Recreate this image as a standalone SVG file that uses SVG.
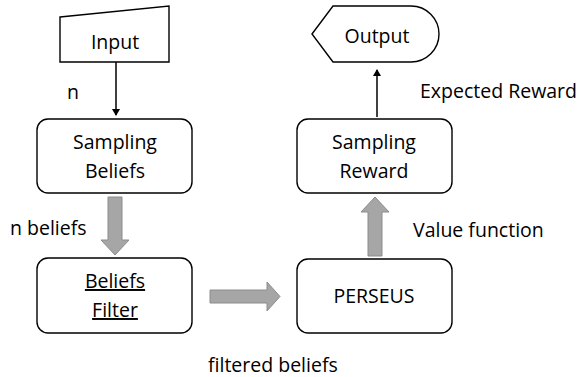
<svg xmlns="http://www.w3.org/2000/svg" width="577" height="377" viewBox="0 0 577 377">
<style>
.box{fill:#fff;stroke:#000;stroke-width:1.4}
.t{font-family:"Open Sans","Liberation Sans",sans-serif;font-size:19.5px;fill:#000;text-anchor:middle}
.l{font-family:"Open Sans","Liberation Sans",sans-serif;font-size:19.5px;fill:#000}
.big{fill:#a6a6a6;stroke:#8c8c8c;stroke-width:1}
.thin{stroke:#000;stroke-width:1.5;fill:none}
</style>
<defs>
<marker id="ah" markerWidth="8" markerHeight="8" refX="6" refY="4" orient="auto" markerUnits="userSpaceOnUse">
<path d="M0,0 L7,4 L0,8 Z" fill="#000"/>
</marker>
</defs>
<rect width="577" height="377" fill="#fff"/>
<g id="input">
<path class="box" d="M60,17 L169,6 L169,62 L60,62 Z"/>
<text class="t" x="115" y="49">Input</text>
</g>
<g id="sampling-beliefs">
<rect class="box" x="37" y="119" width="155" height="74" rx="11"/>
<text class="t" x="115" y="149">Sampling</text>
<text class="t" x="115" y="178">Beliefs</text>
</g>
<g id="beliefs-filter">
<rect class="box" x="37" y="258" width="155" height="75" rx="11"/>
<text class="t" x="115" y="288" text-decoration="underline">Beliefs</text>
<text class="t" x="115" y="317" text-decoration="underline">Filter</text>
</g>
<g id="perseus">
<rect class="box" x="297" y="259" width="155" height="74" rx="11"/>
<text class="t" x="374" y="303">PERSEUS</text>
</g>
<g id="sampling-reward">
<rect class="box" x="297" y="119" width="155" height="74" rx="11"/>
<text class="t" x="374" y="149">Sampling</text>
<text class="t" x="374" y="178">Reward</text>
</g>
<g id="output">
<path class="box" d="M312,34 L333,6 L411,6 A28,28 0 0 1 411,62 L333,62 Z"/>
<text class="t" x="377" y="43">Output</text>
</g>
<g id="connectors">
<line class="thin" x1="116" y1="62" x2="116" y2="115" marker-end="url(#ah)"/>
<line class="thin" x1="377" y1="117" x2="377" y2="70" marker-end="url(#ah)"/>
<path class="big" d="M108,197 L122,197 L122,240 L129,240 L115,255 L101,240 L108,240 Z"/>
<path class="big" d="M210,290 L267,290 L267,282 L280,296.5 L267,311 L267,303 L210,303 Z"/>
<path class="big" d="M368,256 L368,212 L361,212 L375,197 L389,212 L382,212 L382,256 Z"/>
<text class="l" x="67" y="99">n</text>
<text class="l" x="10" y="235">n beliefs</text>
<text class="l" x="208" y="372">filtered beliefs</text>
<text class="l" x="413" y="237">Value function</text>
<text class="l" x="420" y="98">Expected Reward</text>
</g>
</svg>
